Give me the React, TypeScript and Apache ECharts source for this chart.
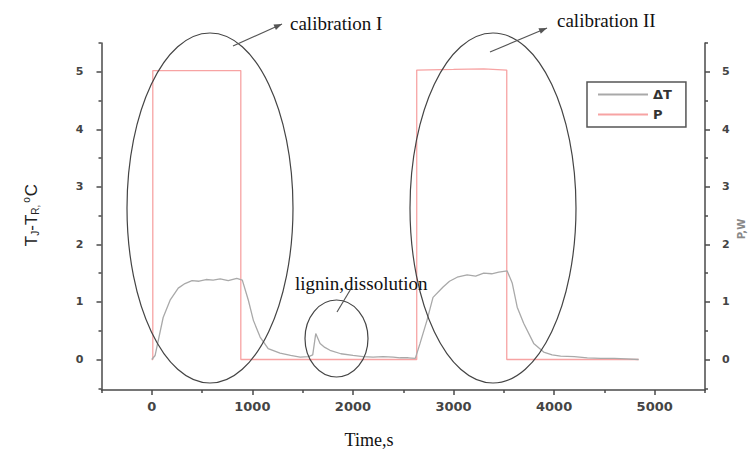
import React, { useEffect, useRef } from "react";
import * as echarts from "echarts";

// ΔT (temperature difference) series
const timeDT = [0, 33, 113, 182, 263, 330, 400, 470, 540, 610, 680, 760, 845, 900, 960, 1010, 1077, 1157, 1275, 1380, 1475, 1560, 1600, 1630, 1673, 1720, 1772, 1880, 2000, 2100, 2200, 2300, 2400, 2470, 2550, 2620, 2667, 2736, 2796, 2896, 2960, 3036, 3135, 3220, 3300, 3380, 3450, 3533, 3583, 3633, 3697, 3797, 3896, 3980, 4065, 4200, 4330, 4463, 4600, 4720, 4840];
const deltaT = [0, 0.07, 0.73, 1.03, 1.24, 1.32, 1.37, 1.36, 1.39, 1.38, 1.40, 1.37, 1.41, 1.38, 1.03, 0.68, 0.39, 0.19, 0.11, 0.07, 0.04, 0.05, 0.08, 0.45, 0.28, 0.21, 0.16, 0.10, 0.07, 0.05, 0.04, 0.05, 0.04, 0.03, 0.03, 0.02, 0.28, 0.68, 1.08, 1.26, 1.36, 1.43, 1.47, 1.45, 1.50, 1.49, 1.52, 1.54, 1.33, 0.91, 0.63, 0.28, 0.13, 0.08, 0.06, 0.05, 0.03, 0.02, 0.02, 0.01, 0.0];

// P (power) series
const timeP = [0, 10, 10, 885, 885, 2634, 2634, 3000, 3300, 3529, 3529, 4840];
const powerP = [0, 0, 5.02, 5.02, 0, 0, 5.03, 5.04, 5.05, 5.03, 0, 0];

const xMajorTicks = [0, 1000, 2000, 3000, 4000, 5000];
const xMinorTicks = [-500, 500, 1500, 2500, 3500, 4500, 5500];
const yMajorTicks = [0, 1, 2, 3, 4, 5];
const yMinorTicks = [-0.5, 0.5, 1.5, 2.5, 3.5, 4.5, 5.5];

const seriesNames = ["\u0394T", "P"];

const AXIS_COLOR = "#4a4a4a";
const X_LABEL_STYLE = {
  color: "#444",
  fontFamily: "DejaVu Sans",
  fontWeight: "bold" as const,
  fontSize: 13,
};
const Y_LABEL_STYLE = {
  color: "#444",
  fontFamily: "DejaVu Sans",
  fontWeight: "bold" as const,
  fontSize: 11,
};

function arrowHead(x1: number, y1: number, x2: number, y2: number, len = 8, w = 3) {
  const dx = x2 - x1;
  const dy = y2 - y1;
  const d = Math.sqrt(dx * dx + dy * dy);
  const ux = dx / d;
  const uy = dy / d;
  const bx = x2 - ux * len;
  const by = y2 - uy * len;
  return [
    [x2, y2],
    [bx - uy * w, by + ux * w],
    [bx + uy * w, by - ux * w],
  ];
}

export default function App() {
  const ref = useRef<HTMLDivElement>(null);
  useEffect(() => {
    if (!ref.current) return;
    const chart = echarts.init(ref.current, null, { renderer: "svg" });
    const ann = "#555";
    const arrows = [
      [233, 46, 282, 24, true],
      [490, 52, 547, 28, true],
      [337, 312, 352, 287, false],
    ] as [number, number, number, number, boolean][];
    const graphic: any[] = [
      { type: "ellipse", shape: { cx: 210, cy: 208, rx: 83, ry: 175 }, style: { fill: "none", stroke: "#444", lineWidth: 1.2 }, z: 10 },
      { type: "ellipse", shape: { cx: 336.5, cy: 338.5, rx: 31.5, ry: 38.5 }, style: { fill: "none", stroke: "#444", lineWidth: 1.2 }, z: 10 },
      { type: "ellipse", shape: { cx: 493, cy: 208, rx: 83, ry: 175 }, style: { fill: "none", stroke: "#444", lineWidth: 1.2 }, z: 10 },
    ];
    arrows.forEach(([x1, y1, x2, y2, head]) => {
      graphic.push({ type: "line", shape: { x1, y1, x2, y2 }, style: { stroke: ann, lineWidth: 1.2 }, z: 10 });
      if (head) {
        graphic.push({ type: "polygon", shape: { points: arrowHead(x1, y1, x2, y2) }, style: { fill: ann }, z: 10 });
      }
    });
    const serif = { fontFamily: "Liberation Serif", fontSize: 19, fill: "#111" };
    graphic.push(
      { type: "text", x: 290, y: 23, style: { text: "calibration I", ...serif, verticalAlign: "middle" }, z: 11 },
      { type: "text", x: 557, y: 20, style: { text: "calibration II", ...serif, verticalAlign: "middle" }, z: 11 },
      { type: "text", x: 295, y: 283, style: { text: "lignin,dissolution", ...serif, verticalAlign: "middle" }, z: 11 },
      { type: "text", x: 369, y: 440, style: { text: "Time,s", ...serif, fontSize: 18, align: "center", verticalAlign: "middle" }, z: 11 },
      {
        type: "text",
        x: 31,
        y: 215,
        rotation: Math.PI / 2,
        style: {
          text: "{m|T}{s|J}{m|-T}{s|R,}{p|o}{m|C}",
          align: "center",
          verticalAlign: "middle",
          rich: {
            m: { fontSize: 17, fontFamily: "Liberation Sans", fill: "#222" },
            s: { fontSize: 10, fontFamily: "Liberation Sans", fill: "#222", padding: [9, 0, 0, 0] },
            p: { fontSize: 10, fontFamily: "Liberation Sans", fill: "#222", padding: [0, 1, 9, 2] },
          },
        },
        z: 11,
      },
      {
        type: "text",
        x: 736,
        y: 229,
        rotation: Math.PI / 2,
        style: { text: "P,W", fontSize: 10, fontFamily: "DejaVu Sans", fontWeight: "bold", fill: "#888", align: "center", verticalAlign: "top" },
        z: 11,
      }
    );

    const axisLine = { show: true, onZero: false, lineStyle: { color: AXIS_COLOR, width: 1.5 } };
    const noLine = { show: false, onZero: false };
    const tickStyle = { color: AXIS_COLOR, width: 1.5 };
    const plain = (v: number) => String(v);

    chart.setOption({
      animation: false,
      backgroundColor: "#fff",
      grid: { left: 101.5, right: 44, top: 43, bottom: 65, containLabel: false },
      legend: {
        data: seriesNames,
        orient: "vertical",
        left: 587,
        top: 82,
        padding: [6, 14, 6, 10],
        itemGap: 7,
        itemWidth: 50,
        itemHeight: 14,
        borderColor: "#555",
        borderWidth: 1.5,
        itemStyle: { opacity: 0 },
        textStyle: { color: "#333", fontWeight: "bold", fontSize: 13, fontFamily: "DejaVu Sans" },
      },
      xAxis: [
        {
          type: "value",
          min: -500,
          max: 5500,
          axisLine,
          axisTick: { show: true, customValues: xMajorTicks, length: 5, lineStyle: tickStyle },
          axisLabel: { customValues: xMajorTicks, margin: 10, formatter: plain, ...X_LABEL_STYLE },
          splitLine: { show: false },
        },
        {
          type: "value",
          min: -500,
          max: 5500,
          position: "bottom",
          axisLine: noLine,
          axisTick: { show: true, customValues: xMinorTicks, length: 3, lineStyle: tickStyle },
          axisLabel: { show: false },
          splitLine: { show: false },
        },
      ],
      yAxis: [
        {
          type: "value",
          min: -0.53,
          max: 5.5,
          position: "left",
          axisLine,
          axisTick: { show: true, customValues: yMajorTicks, length: 5, lineStyle: tickStyle },
          axisLabel: { customValues: yMajorTicks, margin: 18, formatter: plain, ...Y_LABEL_STYLE },
          splitLine: { show: false },
        },
        {
          type: "value",
          min: -0.53,
          max: 5.5,
          position: "right",
          axisLine,
          axisTick: { show: true, customValues: yMajorTicks, length: 5, lineStyle: tickStyle },
          axisLabel: { customValues: yMajorTicks, margin: 17, formatter: plain, ...Y_LABEL_STYLE },
          splitLine: { show: false },
        },
        {
          type: "value",
          min: -0.53,
          max: 5.5,
          position: "left",
          axisLine: noLine,
          axisTick: { show: true, customValues: yMinorTicks, length: 3, lineStyle: tickStyle },
          axisLabel: { show: false },
          splitLine: { show: false },
        },
        {
          type: "value",
          min: -0.53,
          max: 5.5,
          position: "right",
          axisLine: noLine,
          axisTick: { show: true, customValues: yMinorTicks, length: 3, lineStyle: tickStyle },
          axisLabel: { show: false },
          splitLine: { show: false },
        },
      ],
      series: [
        {
          name: seriesNames[0],
          type: "line",
          xAxisIndex: 0,
          yAxisIndex: 0,
          data: timeDT.map((t, i) => [t, deltaT[i]]),
          symbol: "none",
          showSymbol: false,
          lineStyle: { color: "#a9a9a9", width: 1.3 },
          itemStyle: { color: "#a9a9a9" },
          z: 3,
        },
        {
          name: seriesNames[1],
          type: "line",
          xAxisIndex: 0,
          yAxisIndex: 1,
          data: timeP.map((t, i) => [t, powerP[i]]),
          symbol: "none",
          showSymbol: false,
          lineStyle: { color: "#f7a3a3", width: 1.3 },
          itemStyle: { color: "#f7a3a3" },
          z: 2,
        },
      ],
      graphic,
    });
    return () => chart.dispose();
  }, []);
  return <div ref={ref} style={{ position: "absolute", left: 0, top: 0, width: 749, height: 455 }} />;
}
